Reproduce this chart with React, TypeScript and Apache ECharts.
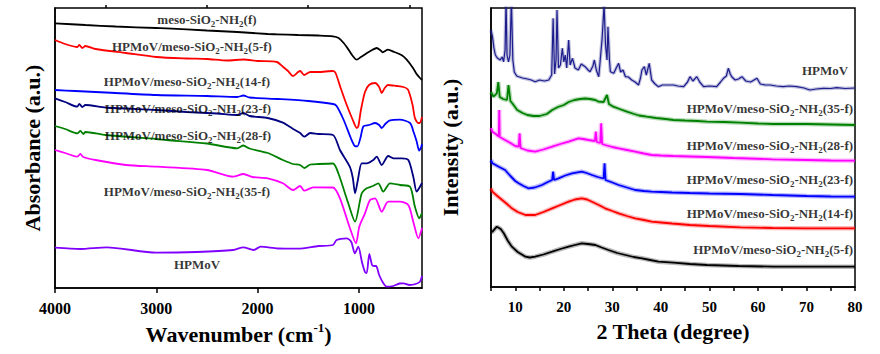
import React, { useEffect, useRef } from "react";
import * as echarts from "echarts";

const FONT = "'Liberation Serif', 'Times New Roman', serif";

// ---------- FTIR (left): [wavenumber cm-1, absorbance a.u.] ----------
const ftirMeso = [
  [4000, 2.647], [3700, 2.63], [3400, 2.615], [3000, 2.6], [2900, 2.597], [2500, 2.575], [2200, 2.56],
  [1900, 2.54], [1810, 2.537], [1600, 2.53], [1400, 2.525], [1256, 2.517], [1200, 2.5], [1150, 2.45],
  [1100, 2.38], [1060, 2.32], [1022, 2.283], [980, 2.31], [920, 2.35], [870, 2.38], [824, 2.4],
  [790, 2.38], [765, 2.357], [713, 2.383], [650, 2.36], [580, 2.33], [528, 2.283], [466, 2.2],
  [430, 2.14], [397, 2.1], [377, 2.08],
];
const ftir5f = [
  [4000, 2.48], [3900, 2.44], [3780, 2.41], [3760, 2.43], [3730, 2.4], [3700, 2.42], [3600, 2.39],
  [3300, 2.35], [3000, 2.31], [2700, 2.295], [2500, 2.29], [2300, 2.275], [2140, 2.285], [2000, 2.27],
  [1810, 2.26], [1750, 2.213], [1700, 2.17], [1650, 2.12], [1600, 2.16], [1580, 2.17], [1540, 2.13],
  [1480, 2.16], [1400, 2.16], [1256, 2.17], [1230, 2.15], [1180, 2.0], [1120, 1.83], [1060, 1.68],
  [1020, 1.6], [1005, 1.62], [980, 1.78], [940, 1.96], [900, 2.03], [840, 2.05], [800, 2.01],
  [775, 1.95], [745, 2.0], [713, 2.03], [630, 2.02], [560, 2.01], [515, 1.983], [470, 1.83],
  [447, 1.7], [415, 1.65], [400, 1.65], [377, 1.71],
];
const ftir14f = [
  [4000, 1.98], [3800, 1.97], [3500, 1.955], [3000, 1.93], [2500, 1.92], [2200, 1.91], [2140, 1.925],
  [2080, 1.905], [1800, 1.89], [1500, 1.87], [1256, 1.84], [1220, 1.82], [1150, 1.68], [1080, 1.5],
  [1040, 1.42], [1015, 1.417], [985, 1.5], [955, 1.617], [900, 1.63], [840, 1.65], [800, 1.63],
  [775, 1.6], [740, 1.64], [693, 1.677], [595, 1.683], [495, 1.65], [460, 1.56], [430, 1.467],
  [405, 1.373], [385, 1.41], [377, 1.44],
];
const ftir23f = [
  [4000, 1.897], [3900, 1.86], [3780, 1.813], [3760, 1.84], [3730, 1.81], [3700, 1.83], [3500, 1.805],
  [3000, 1.78], [2700, 1.76], [2400, 1.745], [2200, 1.73], [2140, 1.75], [2080, 1.72], [1900, 1.7],
  [1750, 1.653], [1650, 1.59], [1580, 1.55], [1540, 1.513], [1480, 1.55], [1400, 1.54], [1256, 1.53],
  [1187, 1.38], [1090, 1.213], [1060, 1.1], [1038, 0.947], [1010, 1.08], [972, 1.247], [923, 1.247],
  [858, 1.28], [824, 1.313], [775, 1.23], [710, 1.32], [660, 1.297], [578, 1.297], [512, 1.28],
  [463, 1.113], [430, 0.963], [397, 1.013], [377, 1.05],
];
const ftir28f = [
  [4000, 1.62], [3900, 1.59], [3780, 1.547], [3750, 1.57], [3720, 1.54], [3700, 1.56], [3500, 1.53],
  [3000, 1.49], [2900, 1.48], [2500, 1.445], [2200, 1.397], [2140, 1.425], [2080, 1.395], [1900, 1.35],
  [1750, 1.28], [1650, 1.24], [1580, 1.23], [1540, 1.2], [1480, 1.235], [1400, 1.24], [1256, 1.245],
  [1203, 1.147], [1105, 0.847], [1038, 0.663], [972, 0.947], [923, 0.997], [860, 1.02], [808, 1.047],
  [760, 0.963], [693, 1.047], [595, 1.03], [495, 1.013], [447, 0.813], [404, 0.697], [377, 0.75],
];
const ftir35f = [
  [4000, 1.38], [3900, 1.35], [3780, 1.313], [3750, 1.34], [3720, 1.31], [3600, 1.28], [3300, 1.23],
  [3000, 1.213], [2500, 1.18], [2240, 1.113], [2140, 1.14], [2050, 1.11], [1900, 1.097], [1750, 1.047],
  [1650, 0.98], [1580, 1.02], [1540, 0.973], [1450, 1.007], [1256, 1.005], [1187, 0.897], [1088, 0.597],
  [1029, 0.447], [996, 0.613], [940, 0.747], [890, 0.88], [840, 0.897], [775, 0.763], [710, 0.863],
  [595, 0.863], [512, 0.83], [463, 0.663], [413, 0.497], [377, 0.6],
];
const ftirHPMoV = [
  [4000, 0.403], [3750, 0.39], [3490, 0.407], [3000, 0.353], [2600, 0.36], [2240, 0.38], [2140, 0.407],
  [2040, 0.38], [1970, 0.413], [1800, 0.395], [1600, 0.393], [1400, 0.42], [1256, 0.43], [1220, 0.48],
  [1120, 0.497], [1075, 0.46], [1040, 0.347], [1006, 0.413], [970, 0.26], [940, 0.16], [923, 0.15],
  [897, 0.34], [870, 0.23], [850, 0.22], [830, 0.22], [800, 0.13], [760, 0.05], [726, 0.013],
  [660, 0.02], [600, 0.045], [562, 0.047], [500, 0.03], [440, 0.04], [397, 0.063], [377, 0.12],
];

// ---------- XRD (right): [2 theta, intensity a.u.] ----------
const xrdHPMoV = [
  [5.0, 2.57], [5.3, 2.503], [5.6, 2.39], [5.9, 2.32], [6.3, 2.29], [6.9, 2.27], [7.3, 2.3], [7.6, 2.253],
  [7.9, 2.37], [8.1, 2.87], [8.3, 2.32], [8.6, 2.25], [8.9, 2.32], [9.2, 2.87], [9.5, 2.27], [9.8, 2.15],
  [10.3, 2.11], [10.7, 2.103], [11.5, 2.09], [12.5, 2.08], [13.3, 2.07], [14.1, 2.053], [15.0, 2.07],
  [16.0, 2.06], [16.9, 2.07], [17.5, 2.12], [17.8, 2.687], [18.1, 2.13], [18.4, 2.27], [18.6, 2.77],
  [18.9, 2.19], [19.3, 2.22], [19.7, 2.387], [20.0, 2.25], [20.3, 2.32], [20.6, 2.19], [21.0, 2.47],
  [21.3, 2.22], [21.8, 2.287], [22.3, 2.19], [23.0, 2.17], [23.6, 2.23], [24.4, 2.203], [25.0, 2.17],
  [25.4, 2.153], [26.0, 2.21], [26.3, 2.27], [26.7, 2.17], [27.2, 2.103], [27.6, 2.32], [27.9, 2.487],
  [28.3, 2.82], [28.6, 2.42], [28.9, 2.27], [29.1, 2.603], [29.4, 2.27], [29.6, 2.153], [30.3, 2.137],
  [30.8, 2.19], [31.3, 2.237], [31.7, 2.15], [32.2, 2.17], [32.7, 2.103], [33.3, 2.1], [34.0, 2.07],
  [34.7, 2.05], [35.4, 2.02], [35.8, 2.09], [36.1, 2.17], [36.6, 2.203], [37.0, 2.12], [37.6, 2.237],
  [38.1, 2.07], [38.8, 2.03], [39.5, 2.003], [40.3, 2.02], [41.2, 2.02], [41.9, 2.02], [42.6, 2.02],
  [43.5, 2.01], [44.7, 2.003], [45.5, 2.05], [46.0, 2.103], [46.6, 2.06], [47.4, 2.103], [48.0, 2.05],
  [48.8, 2.003], [50.0, 2.01], [51.5, 2.003], [52.3, 2.05], [52.9, 2.087], [53.5, 2.11], [53.9, 2.187],
  [54.3, 2.13], [54.6, 2.103], [55.3, 2.07], [56.0, 2.08], [56.7, 2.103], [57.5, 2.06], [58.5, 2.05],
  [59.2, 2.07], [59.8, 2.087], [60.5, 2.03], [61.5, 2.02], [62.5, 2.02], [63.8, 2.01], [65.2, 2.003],
  [66.5, 2.01], [68.0, 2.003], [69.5, 1.99], [70.7, 1.97], [72.0, 1.98], [73.5, 1.987], [75.0, 1.985],
  [76.2, 1.993], [78.0, 1.985], [80.0, 1.99],
];
const xrd35f = [
  [5.0, 1.95], [5.5, 1.903], [6.2, 1.937], [6.5, 2.05], [6.8, 1.9], [7.5, 1.88], [8.3, 1.87], [8.6, 2.02],
  [9.0, 1.86], [9.5, 1.83], [10.4, 1.77], [11.5, 1.74], [12.5, 1.72], [13.8, 1.71], [15.0, 1.71],
  [16.5, 1.73], [17.6, 1.77], [18.8, 1.8], [20.0, 1.82], [21.0, 1.85], [22.2, 1.87], [23.4, 1.88],
  [24.4, 1.885], [25.4, 1.88], [26.5, 1.87], [27.2, 1.853], [28.2, 1.85], [28.9, 1.92], [29.3, 1.83],
  [30.2, 1.803], [31.5, 1.78], [33.0, 1.753], [34.5, 1.73], [35.5, 1.715], [37.1, 1.703], [39.0, 1.69],
  [41.0, 1.68], [42.6, 1.67], [45.0, 1.665], [47.5, 1.66], [49.5, 1.653], [53.0, 1.65], [56.4, 1.643],
  [60.0, 1.635], [63.2, 1.63], [66.5, 1.63], [70.1, 1.63], [75.0, 1.625], [80.0, 1.62],
];
const xrd28f = [
  [5.0, 1.59], [5.3, 1.553], [6.0, 1.53], [6.6, 1.503], [6.7, 1.77], [6.8, 1.5], [7.9, 1.47], [9.0, 1.44],
  [10.0, 1.41], [10.7, 1.403], [10.9, 1.537], [11.1, 1.39], [12.5, 1.365], [14.1, 1.353], [15.8, 1.375],
  [17.6, 1.403], [19.3, 1.43], [21.0, 1.453], [23.0, 1.487], [24.0, 1.48], [25.1, 1.47], [26.4, 1.46],
  [26.6, 1.553], [26.8, 1.45], [27.5, 1.44], [27.7, 1.637], [27.9, 1.43], [28.5, 1.42], [30.0, 1.4],
  [31.3, 1.387], [33.0, 1.37], [34.7, 1.353], [36.5, 1.335], [38.1, 1.32], [40.0, 1.315], [42.5, 1.31],
  [46.0, 1.305], [49.5, 1.3], [55.0, 1.29], [63.0, 1.277], [70.0, 1.27], [75.0, 1.265], [80.0, 1.263],
];
const xrd23f = [
  [5.0, 1.27], [5.3, 1.237], [6.6, 1.203], [7.9, 1.17], [9.0, 1.11], [10.0, 1.06], [10.7, 1.037],
  [11.7, 1.01], [12.7, 0.987], [14.0, 0.995], [15.5, 1.02], [16.7, 1.05], [17.6, 1.07], [17.8, 1.153],
  [18.0, 1.07], [18.9, 1.087], [20.3, 1.115], [21.7, 1.137], [23.7, 1.153], [24.7, 1.14], [25.8, 1.12],
  [27.0, 1.1], [28.2, 1.085], [28.4, 1.237], [28.6, 1.07], [30.0, 1.045], [31.3, 1.02], [33.0, 0.995],
  [34.7, 0.97], [36.5, 0.96], [38.1, 0.953], [40.0, 0.95], [42.3, 0.945], [46.0, 0.94], [50.0, 0.935],
  [56.4, 0.93], [63.0, 0.92], [70.1, 0.91], [75.0, 0.905], [80.0, 0.903],
];
const xrd14f = [
  [5.0, 0.987], [5.3, 0.953], [6.3, 0.91], [7.3, 0.87], [8.3, 0.83], [9.3, 0.787], [10.5, 0.75],
  [12.1, 0.72], [14.1, 0.72], [15.8, 0.75], [17.6, 0.787], [19.3, 0.82], [21.0, 0.853], [22.3, 0.875],
  [23.7, 0.887], [24.8, 0.875], [25.8, 0.853], [27.2, 0.82], [28.5, 0.787], [30.0, 0.76], [31.3, 0.737],
  [33.0, 0.71], [34.7, 0.687], [36.5, 0.67], [38.1, 0.653], [40.0, 0.645], [42.3, 0.635], [46.0, 0.62],
  [50.0, 0.61], [56.4, 0.597], [63.0, 0.59], [70.1, 0.587], [75.0, 0.587], [80.0, 0.587],
];
const xrd5f = [
  [5.0, 0.55], [5.3, 0.553], [6.2, 0.603], [7.0, 0.58], [7.6, 0.54], [8.5, 0.46], [9.3, 0.403],
  [10.5, 0.35], [12.1, 0.303], [13.0, 0.295], [14.1, 0.303], [15.8, 0.325], [17.6, 0.353], [19.3, 0.38],
  [21.0, 0.403], [22.3, 0.42], [23.7, 0.437], [25.0, 0.43], [26.5, 0.42], [27.8, 0.395], [29.2, 0.37],
  [31.0, 0.34], [32.7, 0.32], [34.4, 0.3], [36.1, 0.287], [37.8, 0.27], [39.5, 0.253], [42.6, 0.243],
  [46.0, 0.23], [49.5, 0.22], [56.0, 0.21], [63.2, 0.203], [70.0, 0.203], [80.0, 0.203],
];

// tick values
const ftirLabelTicks = [1000, 2000, 3000, 4000];
const ftirMinorTicks = [500, 1500, 2500, 3500];
const xrdLabelTicks = [10, 20, 30, 40, 50, 60, 70, 80];
const xrdTicks = [5, 10, 15, 20, 25, 30, 35, 40, 45, 50, 55, 60, 65, 70, 75, 80];

const ftirSeries = [
  { name: "meso-SiO2-NH2(f)", color: "#000000", data: ftirMeso },
  { name: "HPMoV/meso-SiO2-NH2(5-f)", color: "#ff0000", data: ftir5f },
  { name: "HPMoV/meso-SiO2-NH2(14-f)", color: "#0000ff", data: ftir14f },
  { name: "HPMoV/meso-SiO2-NH2(23-f)", color: "#000080", data: ftir23f },
  { name: "HPMoV/meso-SiO2-NH2(28-f)", color: "#008000", data: ftir28f },
  { name: "HPMoV/meso-SiO2-NH2(35-f)", color: "#ff00ff", data: ftir35f },
  { name: "HPMoV", color: "#8000ff", data: ftirHPMoV },
];
// label anchors (text centre) in data coordinates
const ftirLabels = [
  { text: "meso-SiO{s|2}-NH{s|2}(f)", at: [2500, 2.69] },
  { text: "HPMoV/meso-SiO{s|2}-NH{s|2}(5-f)", at: [2648, 2.413] },
  { text: "HPMoV/meso-SiO{s|2}-NH{s|2}(14-f)", at: [2697, 2.063] },
  { text: "HPMoV/meso-SiO{s|2}-NH{s|2}(23-f)", at: [2687, 1.797] },
  { text: "HPMoV/meso-SiO{s|2}-NH{s|2}(28-f)", at: [2687, 1.53] },
  { text: "HPMoV/meso-SiO{s|2}-NH{s|2}(35-f)", at: [2697, 0.963] },
  { text: "HPMoV", at: [2598, 0.237] },
];

const xrdSeries = [
  { name: "HPMoV", color: "#1c1c8c", data: xrdHPMoV, core: 1.2, band: 3.5 },
  { name: "HPMoV/meso-SiO2-NH2(35-f)", color: "#008000", data: xrd35f, core: 1.8, band: 4.5 },
  { name: "HPMoV/meso-SiO2-NH2(28-f)", color: "#ff00ff", data: xrd28f, core: 1.8, band: 4.5 },
  { name: "HPMoV/meso-SiO2-NH2(23-f)", color: "#0000ff", data: xrd23f, core: 1.8, band: 4.5 },
  { name: "HPMoV/meso-SiO2-NH2(14-f)", color: "#ff0000", data: xrd14f, core: 1.8, band: 4.5 },
  { name: "HPMoV/meso-SiO2-NH2(5-f)", color: "#000000", data: xrd5f, core: 1.8, band: 4.5 },
];
// label anchors (text right edge) in data coordinates
const xrdLabels = [
  { text: "HPMoV", at: [78.6, 2.17] },
  { text: "HPMoV/meso-SiO{s|2}-NH{s|2}(35-f)", at: [79.6, 1.787] },
  { text: "HPMoV/meso-SiO{s|2}-NH{s|2}(28-f)", at: [79.6, 1.413] },
  { text: "HPMoV/meso-SiO{s|2}-NH{s|2}(23-f)", at: [79.6, 1.077] },
  { text: "HPMoV/meso-SiO{s|2}-NH{s|2}(14-f)", at: [79.6, 0.737] },
  { text: "HPMoV/meso-SiO{s|2}-NH{s|2}(5-f)", at: [79.6, 0.38] },
];

const labelRich = {
  s: {
    fontSize: 9,
    fontWeight: "bold",
    fontFamily: FONT,
    color: "#000",
    verticalAlign: "bottom",
    lineHeight: 18,
  },
};

function buildOption() {
  const black = "#000";
  const nameStyle = {
    fontSize: 22,
    fontWeight: "bold",
    fontFamily: FONT,
    color: black,
    rich: {
      sup: { fontSize: 13, fontWeight: "bold", fontFamily: FONT, color: black, verticalAlign: "top", lineHeight: 26 },
    },
  };
  const plainNumber = (v: number) => String(v);
  const series: any[] = [];
  ftirSeries.forEach((s) => {
    series.push({
      type: "line",
      name: s.name,
      xAxisIndex: 0,
      yAxisIndex: 0,
      data: s.data,
      showSymbol: false,
      smooth: 0.25,
      lineStyle: { color: s.color, width: 1.8 },
      silent: true,
    });
  });
  series.push({
    type: "scatter",
    xAxisIndex: 0,
    yAxisIndex: 0,
    symbolSize: 0,
    silent: true,
    z: 10,
    data: ftirLabels.map((l) => ({ value: l.at, label: { formatter: l.text } })),
    label: {
      show: true,
      position: "inside",
      fontSize: 13,
      fontWeight: "bold",
      fontFamily: FONT,
      color: black,
      lineHeight: 18,
      rich: labelRich,
    },
  });
  xrdSeries.forEach((s) => {
    series.push({
      type: "line",
      name: s.name + " band",
      xAxisIndex: 2,
      yAxisIndex: 1,
      data: s.data,
      showSymbol: false,
      lineStyle: { color: s.color, width: s.band, opacity: 0.28 },
      silent: true,
    });
    series.push({
      type: "line",
      name: s.name,
      xAxisIndex: 2,
      yAxisIndex: 1,
      data: s.data,
      showSymbol: false,
      lineStyle: { color: s.color, width: s.core },
      silent: true,
    });
  });
  series.push({
    type: "scatter",
    xAxisIndex: 2,
    yAxisIndex: 1,
    symbolSize: 0,
    silent: true,
    z: 10,
    data: xrdLabels.map((l) => ({ value: l.at, label: { formatter: l.text } })),
    label: {
      show: true,
      position: "left",
      distance: 0,
      fontSize: 13,
      fontWeight: "bold",
      fontFamily: FONT,
      color: black,
      lineHeight: 18,
      rich: labelRich,
    },
  });

  return {
    animation: false,
    backgroundColor: "#fff",
    grid: [
      { left: 55, top: 8, width: 367, height: 280, show: true, borderColor: black, borderWidth: 1.5, backgroundColor: "transparent" },
      { left: 491, top: 8, width: 364, height: 279, show: true, borderColor: black, borderWidth: 1.5, backgroundColor: "transparent" },
    ],
    xAxis: [
      {
        gridIndex: 0,
        type: "value",
        inverse: true,
        min: 377,
        max: 4000,
        axisLine: { show: true, lineStyle: { color: black, width: 1.5 } },
        axisTick: { show: true, customValues: ftirLabelTicks, length: 5, lineStyle: { color: black, width: 1.5 } },
        axisLabel: { show: true, customValues: ftirLabelTicks, formatter: plainNumber, margin: 12, fontSize: 16, fontWeight: "bold", fontFamily: FONT, color: black },
        splitLine: { show: false },
        name: "Wavenumber (cm{sup|-1})",
        nameLocation: "middle",
        nameGap: 33,
        nameTextStyle: nameStyle,
      },
      {
        gridIndex: 0,
        type: "value",
        inverse: true,
        min: 377,
        max: 4000,
        axisLine: { show: false },
        axisTick: { show: true, customValues: ftirMinorTicks, length: 3, lineStyle: { color: black, width: 1.5 } },
        axisLabel: { show: false },
        splitLine: { show: false },
      },
      {
        gridIndex: 1,
        type: "value",
        min: 5,
        max: 80,
        axisLine: { show: true, lineStyle: { color: black, width: 1.5 } },
        axisTick: { show: true, customValues: xrdTicks, length: 4, lineStyle: { color: black, width: 1.5 } },
        axisLabel: { show: true, customValues: xrdLabelTicks, formatter: plainNumber, margin: 12, fontSize: 15, fontWeight: "bold", fontFamily: FONT, color: black },
        splitLine: { show: false },
        name: "2 Theta (degree)",
        nameLocation: "middle",
        nameGap: 33,
        nameTextStyle: nameStyle,
      },
    ],
    yAxis: [
      {
        gridIndex: 0,
        type: "value",
        min: 0,
        max: 2.8,
        axisLine: { show: true, lineStyle: { color: black, width: 1.5 } },
        axisTick: { show: false },
        axisLabel: { show: false },
        splitLine: { show: false },
        name: "Absorbance (a.u.)",
        nameLocation: "middle",
        nameGap: 12,
        nameTextStyle: nameStyle,
      },
      {
        gridIndex: 1,
        type: "value",
        min: 0,
        max: 2.79,
        axisLine: { show: true, lineStyle: { color: black, width: 1.5 } },
        axisTick: { show: false },
        axisLabel: { show: false },
        splitLine: { show: false },
        name: "Intensity (a.u.)",
        nameLocation: "middle",
        nameGap: 30,
        nameTextStyle: nameStyle,
      },
    ],
    series,
  };
}

export default function App() {
  const ref = useRef<HTMLDivElement>(null);
  useEffect(() => {
    const chart = echarts.init(ref.current as HTMLDivElement, null, { renderer: "svg" });
    chart.setOption(buildOption() as any);
    return () => chart.dispose();
  }, []);
  return (
    <div
      ref={ref}
      style={{ position: "fixed", left: 0, top: 0, width: 880, height: 354, background: "#fff" }}
    />
  );
}
